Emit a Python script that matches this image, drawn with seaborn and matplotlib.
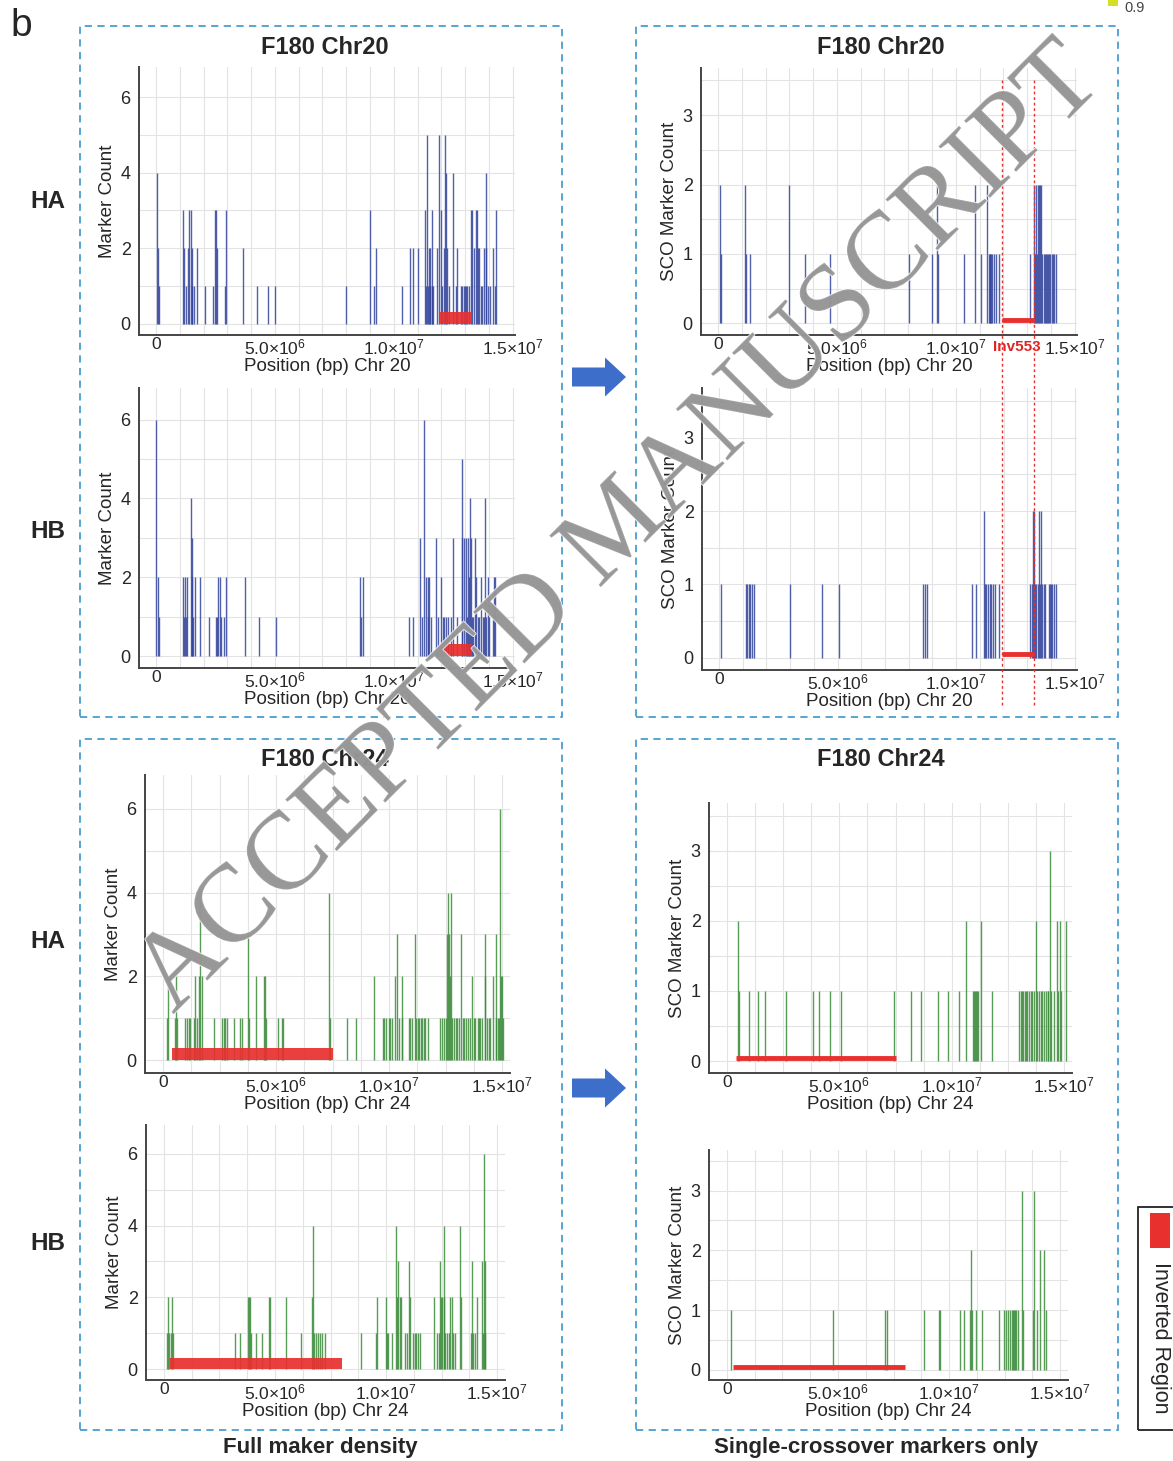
import matplotlib.pyplot as plt
import matplotlib.patheffects as pe
import matplotlib.transforms as mtransforms
from matplotlib.patches import FancyArrow, Rectangle
import seaborn as sns

# ---- data: bin position (Mb) and marker count per bin ----
# Chr20, full marker density
ha20_pos = [0.03, 0.07, 0.11, 1.15, 1.19, 1.24, 1.36, 1.40, 1.45, 1.49, 1.53, 1.60, 1.74,
            2.04, 2.39, 2.49, 2.53, 2.56, 2.91, 2.95, 3.65, 4.24, 4.71, 5.00, 8.01, 8.99,
            9.16, 9.26, 10.35, 10.70, 10.80, 11.01, 11.31, 11.35, 11.40, 11.45, 11.47, 11.52,
            11.54, 11.59, 11.62, 11.66, 11.83, 11.90, 11.97, 12.04, 12.11, 12.15, 12.21, 12.25,
            12.32, 12.50, 12.60, 12.67, 12.81, 12.88, 12.95, 12.99, 13.05, 13.10, 13.16, 13.26,
            13.31, 13.37, 13.44, 13.51, 13.55, 13.60, 13.65, 13.72, 13.79, 13.86, 13.90, 13.96,
            14.04, 14.18, 14.26, 14.31]
ha20_cnt = [4, 2, 1, 3, 2, 1, 2, 3, 3, 2, 1, 1, 2,
            1, 1, 3, 3, 2, 1, 3, 2, 1, 1, 1, 1, 3,
            1, 2, 1, 2, 2, 2, 3, 1, 5, 1, 2, 1,
            2, 1, 3, 1, 2, 5, 3, 1, 2, 5, 4, 2,
            1, 4, 1, 2, 1, 1, 1, 1, 1, 1, 1, 3,
            3, 2, 3, 3, 2, 2, 1, 1, 2, 4, 2, 1,
            1, 2, 1, 3]

hb20_pos = [0.01, 0.06, 0.11, 1.14, 1.18, 1.21, 1.24, 1.28, 1.45, 1.49, 1.53, 1.56, 1.62,
            1.84, 2.22, 2.53, 2.57, 2.61, 2.67, 2.71, 2.85, 2.95, 3.76, 4.31, 5.03, 8.57,
            8.62, 8.72, 10.62, 10.81, 11.11, 11.18, 11.28, 11.35, 11.42, 11.46, 11.49, 11.56,
            11.77, 11.84, 11.97, 12.05, 12.12, 12.19, 12.26, 12.40, 12.51, 12.68, 12.85, 12.89,
            12.96, 13.03, 13.08, 13.13, 13.17, 13.22, 13.24, 13.29, 13.34, 13.41, 13.46, 13.53,
            13.60, 13.67, 13.74, 13.78, 13.83, 13.88, 13.95, 14.02, 14.16, 14.23, 14.27]
hb20_cnt = [6, 2, 1, 2, 1, 2, 1, 2, 4, 2, 3, 1, 2,
            2, 1, 1, 1, 2, 2, 1, 1, 2, 2, 1, 1, 2,
            1, 2, 1, 1, 3, 1, 6, 2, 2, 1, 2, 1,
            3, 1, 2, 1, 1, 1, 1, 1, 3, 1, 3, 5,
            3, 3, 1, 3, 2, 4, 3, 1, 1, 3, 2, 1,
            1, 2, 1, 1, 4, 1, 2, 1, 1, 2, 2]

# Chr20, single-crossover markers only
ha20_sco_pos = [0.06, 0.14, 1.15, 1.19, 1.36, 2.98, 3.67, 4.72, 8.03, 9.02, 9.23, 9.27,
                10.35, 10.81, 11.05, 11.33, 11.38, 11.42, 11.46, 11.50, 11.54, 11.59, 11.69,
                11.80, 13.13, 13.30, 13.34, 13.38, 13.43, 13.47, 13.51, 13.55, 13.60, 13.64,
                13.72, 13.76, 13.81, 13.85, 13.89, 13.93, 13.97, 14.03, 14.09, 14.14, 14.20]
ha20_sco_cnt = [2, 1, 2, 1, 1, 2, 1, 1, 1, 1, 2, 1,
                1, 2, 1, 2, 1, 1, 1, 1, 1, 1, 1,
                1, 1, 2, 1, 2, 1, 2, 2, 2, 2, 1,
                1, 1, 1, 1, 1, 1, 1, 1, 1, 1, 1]

hb20_sco_pos = [0.07, 1.14, 1.19, 1.25, 1.29, 1.38, 1.47, 2.99, 4.35, 5.07, 8.61, 8.69,
                8.78, 10.67, 10.86, 11.18, 11.22, 11.28, 11.35, 11.42, 11.49, 11.56, 11.63,
                11.81, 13.13, 13.19, 13.24, 13.30, 13.34, 13.38, 13.44, 13.48, 13.53, 13.57,
                13.61, 13.69, 13.76, 13.92, 13.97, 14.02, 14.06, 14.11, 14.23]
hb20_sco_cnt = [1, 1, 1, 1, 1, 1, 1, 1, 1, 1, 1, 1,
                1, 1, 1, 2, 1, 1, 1, 1, 1, 1, 1,
                1, 1, 1, 2, 2, 1, 1, 1, 2, 1, 2,
                1, 1, 1, 1, 1, 1, 1, 1, 1]

# Chr24, full marker density
ha24_pos = [0.18, 0.22, 0.52, 0.56, 0.62, 0.99, 1.06, 1.14, 1.21, 1.36, 1.43, 1.50, 1.61,
            1.65, 1.70, 2.24, 2.61, 2.68, 2.76, 2.83, 3.13, 3.42, 3.50, 3.76, 3.79, 4.12,
            4.45, 4.53, 4.57, 5.09, 5.25, 5.31, 7.33, 7.37, 8.14, 8.55, 9.32, 9.73, 9.79,
            9.88, 9.99, 10.06, 10.13, 10.25, 10.35, 10.43, 10.55, 10.59, 10.87, 10.94, 11.03,
            11.14, 11.21, 11.27, 11.33, 11.39, 11.46, 11.53, 11.61, 11.71, 12.27, 12.35, 12.42,
            12.54, 12.57, 12.61, 12.65, 12.68, 12.74, 12.79, 12.86, 12.94, 13.01, 13.08, 13.20,
            13.26, 13.33, 13.42, 13.50, 13.57, 13.67, 13.75, 13.82, 13.92, 13.98, 14.04, 14.12,
            14.23, 14.26, 14.34, 14.41, 14.45, 14.60, 14.71, 14.75, 14.81, 14.85, 14.90, 14.94,
            14.99, 15.03]
ha24_cnt = [1, 2, 1, 2, 1, 1, 1, 1, 1, 1, 2, 1, 2,
            4, 2, 1, 1, 1, 1, 1, 1, 1, 1, 3, 1, 2,
            2, 2, 1, 1, 1, 1, 4, 1, 1, 1, 2, 1, 1,
            1, 1, 1, 1, 2, 3, 1, 1, 2, 1, 1, 1,
            3, 1, 1, 1, 1, 1, 1, 1, 1, 1, 1, 1,
            1, 3, 4, 3, 2, 4, 1, 1, 1, 1, 1, 3,
            1, 1, 1, 1, 1, 2, 1, 1, 1, 1, 1, 1,
            2, 3, 1, 1, 1, 2, 1, 3, 1, 1, 6, 2,
            2, 1]

hb24_pos = [0.13, 0.18, 0.25, 0.33, 0.37, 0.43, 3.19, 3.44, 3.78, 3.82, 3.88, 3.93, 4.15,
            4.44, 4.74, 4.80, 5.51, 6.19, 6.65, 6.70, 6.74, 6.83, 6.93, 7.02, 7.14, 7.24,
            8.89, 9.56, 9.59, 9.99, 10.03, 10.10, 10.25, 10.43, 10.49, 10.55, 10.61, 10.65,
            10.84, 10.92, 11.04, 11.07, 11.21, 11.29, 11.36, 11.44, 11.51, 12.15, 12.28, 12.37,
            12.43, 12.47, 12.52, 12.59, 12.62, 12.67, 12.73, 12.81, 12.89, 12.95, 13.01, 13.10,
            13.32, 13.35, 13.81, 13.87, 13.93, 13.99, 14.10, 14.30, 14.34, 14.39, 14.43, 14.47]
hb24_cnt = [1, 2, 1, 1, 2, 1, 1, 1, 2, 2, 2, 1, 1,
            1, 2, 2, 2, 1, 2, 4, 1, 1, 1, 1, 1, 1,
            1, 1, 2, 2, 1, 1, 1, 4, 2, 3, 2, 2,
            1, 1, 3, 2, 1, 1, 1, 1, 1, 2, 1, 1,
            3, 2, 2, 4, 2, 1, 1, 1, 2, 2, 1, 1,
            4, 2, 1, 3, 1, 1, 2, 3, 1, 6, 3, 1]

# Chr24, single-crossover markers only
ha24_sco_pos = [0.49, 0.54, 0.98, 1.38, 1.68, 2.62, 3.81, 4.11, 4.58, 5.06, 7.44, 8.20,
                8.62, 9.39, 9.82, 10.34, 10.64, 10.94, 10.98, 11.04, 11.09, 11.13, 11.18,
                11.28, 11.77, 13.01, 13.07, 13.14, 13.18, 13.24, 13.30, 13.36, 13.43, 13.51,
                13.59, 13.66, 13.74, 13.78, 13.88, 13.96, 14.03, 14.11, 14.18, 14.26, 14.29,
                14.38, 14.43, 14.55, 14.67, 14.73, 14.82, 14.88, 15.07]
ha24_sco_cnt = [2, 1, 1, 1, 1, 1, 1, 1, 1, 1, 1, 1,
                1, 1, 1, 1, 2, 1, 1, 1, 1, 1, 1,
                2, 1, 1, 1, 1, 1, 1, 1, 1, 1, 1,
                1, 1, 2, 1, 1, 1, 1, 1, 1, 1, 1,
                3, 1, 1, 2, 1, 2, 1, 2]

hb24_sco_pos = [0.19, 4.80, 7.12, 7.21, 8.89, 9.56, 9.59, 10.49, 10.66, 10.95, 10.99, 11.03,
                11.23, 11.48, 12.26, 12.48, 12.56, 12.63, 12.75, 12.81, 12.87, 12.92, 12.97,
                13.03, 13.10, 13.29, 13.34, 13.77, 13.81, 13.96, 14.08, 14.25, 14.37]
hb24_sco_cnt = [1, 1, 1, 1, 1, 1, 1, 1, 1, 1, 2, 1,
                1, 1, 1, 1, 1, 1, 1, 1, 1, 1, 1,
                1, 1, 3, 1, 1, 3, 1, 2, 2, 1]

# inverted regions (Mb)
inv20 = (11.94, 13.29)
inv24_ha = (0.40, 7.50)
inv24_hb = (0.30, 8.00)

x_tick_labels = ["0", "5.0×10$^{6}$", "1.0×10$^{7}$", "1.5×10$^{7}$"]

BLUE = "#33449c"
GREEN = "#3b8b3b"
RED = "#e8302e"
BOX = "#4b9dcf"

sns.set_theme(style="white")
plt.rcParams["font.family"] = ["Liberation Sans", "DejaVu Sans"]
plt.rcParams["mathtext.fontset"] = "custom"
plt.rcParams["mathtext.rm"] = "Liberation Sans"
plt.rcParams["mathtext.it"] = "Liberation Sans"

W, H = 1173, 1461
fig = plt.figure(figsize=(W / 100, H / 100), dpi=100)


def px_rect(l, t, r, b):
    return [l / W, 1 - b / H, (r - l) / W, (b - t) / H]


def spike_panel(rect, pos, cnt, color, inv, chrom, sco=False):
    ax = fig.add_axes(px_rect(*rect))
    ax.vlines([p * 1e6 for p in pos], 0, cnt, color=color, lw=1.0, alpha=0.85, zorder=3)
    if sco:
        ax.hlines(0.05, inv[0] * 1e6, inv[1] * 1e6, color=RED, lw=3.5, zorder=4)
        ax.set_ylim(-0.17, 3.68)
        ax.set_yticks([0, 1, 2, 3])
        ax.set_yticks([i * 0.5 for i in range(8)], minor=True)
        ax.set_ylabel("SCO Marker Count", fontsize=13.5, labelpad=3)
    else:
        ax.bar(inv[0] * 1e6, 0.3, width=(inv[1] - inv[0]) * 1e6, align="edge",
               color=RED, alpha=0.92, zorder=4, linewidth=0)
        ax.set_ylim(-0.3, 6.8)
        ax.set_yticks([0, 2, 4, 6])
        ax.set_yticks(range(7), minor=True)
        ax.set_ylabel("Marker Count", fontsize=13.5, labelpad=3)
    if chrom == "20":
        ax.set_xlim(-0.72e6, 1.51e7)
        ax.set_xticks([i * 1e6 for i in range(16)], minor=True)
    else:
        ax.set_xlim(-0.8e6, 1.535e7)
        ax.set_xticks([i * 1.25e6 for i in range(13)], minor=True)
    ax.set_xticks([0, 5e6, 1e7, 1.5e7])
    ax.set_xticklabels(x_tick_labels)
    ax.set_xlabel(f"Position (bp) Chr {chrom}", fontsize=13.5, labelpad=1)
    ax.tick_params(axis="x", labelsize=12.5, length=0, pad=1.5)
    ax.tick_params(axis="y", labelsize=13, length=0, pad=6)
    ax.tick_params(which="minor", length=0)
    ax.grid(which="both", color="#e3e3e3", lw=0.8)
    ax.set_axisbelow(True)
    sns.despine(ax=ax)
    for s in ("left", "bottom"):
        ax.spines[s].set_color("#444444")
        ax.spines[s].set_linewidth(1.4)
    return ax


ax1 = spike_panel((139, 67, 515, 335), ha20_pos, ha20_cnt, BLUE, inv20, "20")
ax2 = spike_panel((139, 388, 515, 668), hb20_pos, hb20_cnt, BLUE, inv20, "20")
ax3 = spike_panel((701, 68, 1077, 335), ha20_sco_pos, ha20_sco_cnt, BLUE, inv20, "20", sco=True)
ax4 = spike_panel((702, 388, 1077, 670), hb20_sco_pos, hb20_sco_cnt, BLUE, inv20, "20", sco=True)
ax5 = spike_panel((145, 775, 510, 1073), ha24_pos, ha24_cnt, GREEN, inv24_ha, "24")
ax6 = spike_panel((146, 1125, 505, 1380), hb24_pos, hb24_cnt, GREEN, inv24_hb, "24")
ax7 = spike_panel((709, 803, 1072, 1073), ha24_sco_pos, ha24_sco_cnt, GREEN, inv24_ha, "24", sco=True)
ax8 = spike_panel((709, 1150, 1068, 1380), hb24_sco_pos, hb24_sco_cnt, GREEN, inv24_hb, "24", sco=True)

# Inv553 boundaries through both SCO chr20 panels
trans = mtransforms.blended_transform_factory(ax3.transData, fig.transFigure)
for xb in inv20:
    fig.add_artist(plt.Line2D([xb * 1e6, xb * 1e6], [1 - 80 / H, 1 - 705 / H], transform=trans,
                              color=RED, lw=1.0, ls=(0, (2, 2)), zorder=10))
fig.text(1017 / W, 1 - 347 / H, "Inv553", color="#e02424", fontsize=11, fontweight="bold",
         ha="center", va="center")

# dashed group boxes
for l, t, r, b in [(80, 26, 562, 717), (636, 26, 1118, 717),
                   (80, 739, 562, 1430), (636, 739, 1118, 1430)]:
    fig.add_artist(Rectangle((l / W, 1 - b / H), (r - l) / W, (b - t) / H, transform=fig.transFigure,
                             fill=False, edgecolor=BOX, lw=1.3, ls=(0, (4, 3))))

for x, y, s in [(325, 47, "F180 Chr20"), (881, 47, "F180 Chr20"),
                (325, 760, "F180 Chr24"), (881, 760, "F180 Chr24")]:
    fig.text(x / W, 1 - y / H, s, fontsize=17, fontweight="bold", ha="center", va="center")

for y, s in [(202, "HA"), (531, "HB"), (942, "HA"), (1243, "HB")]:
    fig.text(48 / W, 1 - y / H, s, fontsize=17.5, fontweight="bold", ha="center", va="center")

fig.text(320 / W, 1 - 1448 / H, "Full maker density", fontsize=16, fontweight="bold",
         ha="center", va="center")
fig.text(876 / W, 1 - 1448 / H, "Single-crossover markers only", fontsize=16, fontweight="bold",
         ha="center", va="center")
fig.text(10 / W, 1 - 26 / H, "b", fontsize=28, ha="left", va="center")

# arrows between the panel groups
for yc in (377, 1088):
    fig.add_artist(FancyArrow(5.72, (H - yc) / 100, 0.54, 0, width=0.19, head_width=0.39,
                              head_length=0.21, length_includes_head=True,
                              transform=fig.dpi_scale_trans, color="#3d6ec9", lw=0))

# legend
fig.add_artist(Rectangle((1138 / W, 1 - 1430 / H), 60 / W, 223 / H, transform=fig.transFigure,
                         fill=False, edgecolor="#222222", lw=1.3))
fig.add_artist(Rectangle((1150 / W, 1 - 1248 / H), 20 / W, 35 / H, transform=fig.transFigure,
                         facecolor=RED, edgecolor="none"))
fig.text(1160 / W, 1 - 1338 / H, "Inverted Region", fontsize=15.5, rotation=270,
         ha="center", va="center")

# colour-key remnant at top right
fig.add_artist(Rectangle((1108 / W, 1 - 6 / H), 10 / W, 6 / H, transform=fig.transFigure,
                         facecolor="#d6df22", edgecolor="none"))
fig.text(1124 / W, 1 - 8 / H, "0.9", fontsize=10.5, color="#444444", ha="left", va="center")

# watermark
fig.text(620 / W, 1 - 530 / H, "ACCEPTED MANUSCRIPT", fontsize=80, rotation=45,
         family=["Liberation Serif", "DejaVu Serif"], color="#969696", alpha=0.85,
         ha="center", va="center", rotation_mode="anchor", zorder=20,
         path_effects=[pe.withStroke(linewidth=1.2, foreground="white")])

fig.savefig("out.png", dpi=100, facecolor="white")
